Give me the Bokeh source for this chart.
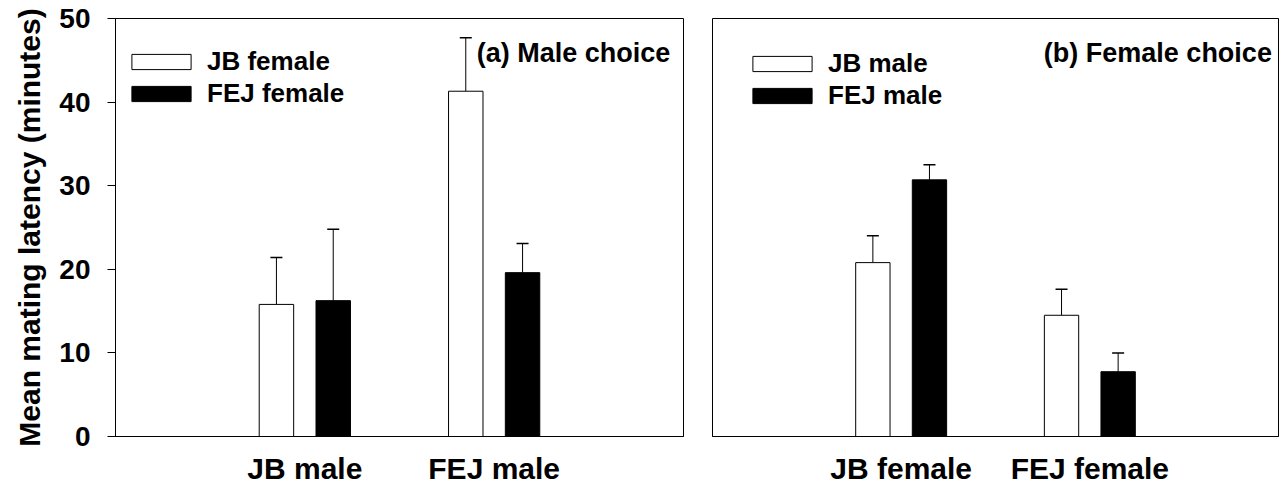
from bokeh.plotting import figure
from bokeh.layouts import row
from bokeh.models import (Range1d, FixedTicker, Whisker, TeeHead, ColumnDataSource,
                          Legend, LegendItem, Label)
from bokeh.embed import file_html
from bokeh.resources import INLINE

# ---- data ----
male_groups = ["JB male", "FEJ male"]
jb_female_mean = [15.8, 41.3]
jb_female_se = [5.6, 6.4]
fej_female_mean = [16.25, 19.6]
fej_female_se = [8.55, 3.5]

female_groups = ["JB female", "FEJ female"]
jb_male_mean = [20.8, 14.5]
jb_male_se = [3.2, 3.1]
fej_male_mean = [30.7, 7.75]
fej_male_se = [1.8, 2.25]

y_ticks = [0, 10, 20, 30, 40, 50]

FONT = "Liberation Sans"
OFFSET = 0.15
BAR_W = 0.182


def make_panel(groups, white_mean, white_se, black_mean, black_se,
               white_label, black_label, title, left_border, right_border,
               frame_w, show_y, legend_loc):
    p = figure(output_backend="svg", toolbar_location=None,
               frame_width=frame_w, frame_height=418,
               min_border_left=left_border, min_border_right=right_border,
               min_border_top=18, min_border_bottom=57,
               x_range=Range1d(0, len(groups) + 1), y_range=Range1d(0, 50))
    p.grid.visible = False
    p.outline_line_color = "black"
    p.outline_line_width = 1
    p.background_fill_color = "white"
    p.border_fill_color = "white"

    centers = [i + 1 for i in range(len(groups))]
    xw = [c - OFFSET for c in centers]
    xb = [c + OFFSET for c in centers]

    src_w = ColumnDataSource(dict(x=xw, top=white_mean,
                                  up=[m + s for m, s in zip(white_mean, white_se)]))
    src_b = ColumnDataSource(dict(x=xb, top=black_mean,
                                  up=[m + s for m, s in zip(black_mean, black_se)]))

    for src in (src_w, src_b):
        p.add_layout(Whisker(source=src, base="x", lower="top", upper="up",
                             dimension="height", line_color="black", line_width=1,
                             lower_head=None,
                             upper_head=TeeHead(size=12, line_color="black", line_width=1.5)))

    rw = p.vbar(x="x", top="top", bottom=0, width=BAR_W, source=src_w,
                fill_color="white", line_color="black", line_width=1)
    rb = p.vbar(x="x", top="top", bottom=0, width=BAR_W, source=src_b,
                fill_color="black", line_color="black", line_width=1)

    # x axis
    xa = p.xaxis[0]
    xa.ticker = FixedTicker(ticks=centers)
    xa.major_label_overrides = {c: g for c, g in zip(centers, groups)}
    xa.major_tick_out = 0
    xa.major_tick_in = 0
    xa.minor_tick_out = 0
    xa.minor_tick_in = 0
    xa.major_label_standoff = 15
    xa.major_label_text_font = FONT
    xa.major_label_text_font_style = "bold"
    xa.major_label_text_font_size = "30px"
    xa.major_label_text_color = "black"
    xa.axis_line_color = "black"

    ya = p.yaxis[0]
    if show_y:
        ya.ticker = FixedTicker(ticks=y_ticks)
        ya.major_tick_out = 8
        ya.major_tick_in = 0
        ya.minor_tick_out = 0
        ya.minor_tick_in = 0
        ya.major_tick_line_color = "black"
        ya.major_label_standoff = 17
        ya.major_label_text_font = FONT
        ya.major_label_text_font_style = "bold"
        ya.major_label_text_font_size = "28px"
        ya.major_label_text_color = "black"
        ya.axis_label = "Mean mating latency (minutes)"
        ya.axis_label_text_font = FONT
        ya.axis_label_text_font_style = "bold"
        ya.axis_label_text_font_size = "30px"
        ya.axis_label_text_color = "black"
        ya.axis_label_standoff = 10
        ya.axis_line_color = "black"
    else:
        ya.visible = False

    legend = Legend(items=[LegendItem(label=white_label, renderers=[rw]),
                           LegendItem(label=black_label, renderers=[rb])],
                    location=legend_loc, margin=0, padding=9,
                    glyph_width=74, glyph_height=19, label_standoff=9,
                    spacing=1, border_line_alpha=0, background_fill_alpha=0,
                    label_text_font=FONT, label_text_font_style="bold",
                    label_text_font_size="26px", label_text_color="black")
    p.add_layout(legend)

    p.add_layout(Label(x=len(groups) + 1 - title[1], y=title[2], text=title[0],
                       text_align="right", text_baseline="alphabetic",
                       text_font=FONT, text_font_style="bold",
                       text_font_size="27px", text_color="black"))
    return p


p1 = make_panel(male_groups, jb_female_mean, jb_female_se, fej_female_mean, fej_female_se,
                "JB female", "FEJ female", ("(a) Male choice", 0.07, 45.9),
                115, 14, 568, True, (0, 318))
p2 = make_panel(female_groups, jb_male_mean, jb_male_se, fej_male_mean, fej_male_se,
                "JB male", "FEJ male", ("(b) Female choice", 0.035, 45.9),
                15, 8, 566, False, (24, 316))

layout = row(p1, p2)
open("out.html", "w").write(file_html(layout, INLINE))
